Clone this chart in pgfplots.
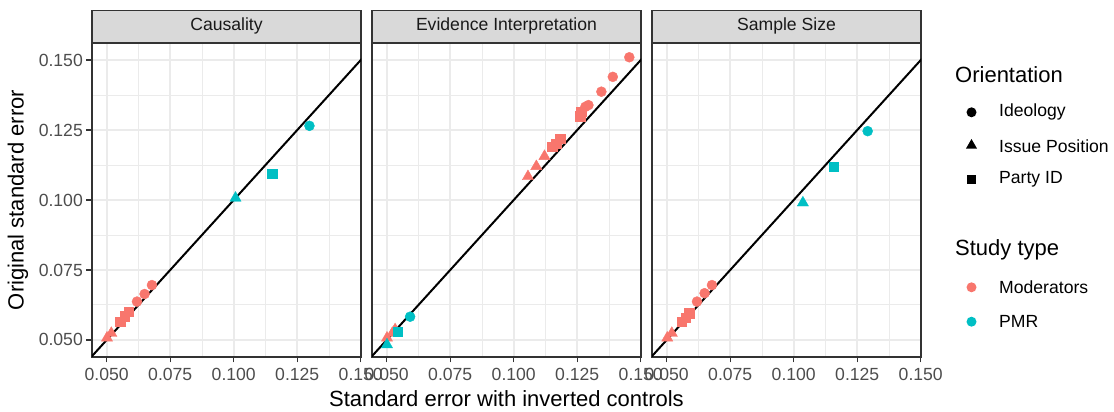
\documentclass[border=0pt]{standalone}
\usepackage{fontspec}
\setmainfont{Liberation Sans}
\usepackage{pgfplots}
\pgfplotsset{compat=1.18}
\usepgfplotslibrary{groupplots}
\usetikzlibrary{shapes.geometric}

\definecolor{modc}{HTML}{F8766D}
\definecolor{pmrc}{HTML}{00BFC4}
\definecolor{gridc}{HTML}{EBEBEB}
\definecolor{bordc}{HTML}{333333}
\definecolor{tickc}{HTML}{4D4D4D}
\definecolor{stripc}{HTML}{D9D9D9}

\pgfplotsset{
  modC/.style={only marks, mark=*, mark size=5pt, color=modc},
  modS/.style={only marks, mark=square*, mark size=4.7pt, color=modc},
  modT/.style={only marks, mark=triangle*, mark size=6.5pt, color=modc},
  pmrC/.style={only marks, mark=*, mark size=5pt, color=pmrc},
  pmrS/.style={only marks, mark=square*, mark size=4.7pt, color=pmrc},
  pmrT/.style={only marks, mark=triangle*, mark size=6.5pt, color=pmrc},
  idline/.style={black, line width=2pt, no marks},
}

\newcommand{\tickfont}{\fontsize{17.6}{20}\selectfont}

\begin{document}
\begin{tikzpicture}
\begin{groupplot}[
  group style={group size=3 by 1, horizontal sep=11pt, group name=G},
  width=269pt, height=314pt, scale only axis,
  xmin=0.0442, xmax=0.1501, ymin=0.0439, ymax=0.1561,
  xtick={0.05,0.075,0.1,0.125,0.15},
  xticklabels={0.050,0.075,0.100,0.125,0.150},
  ytick={0.05,0.075,0.1,0.125,0.15},
  minor xtick={0.0625,0.0875,0.1125,0.1375},
  minor ytick={0.0625,0.0875,0.1125,0.1375},
  grid=both,
  major grid style={gridc, line width=1.9pt},
  minor grid style={gridc, line width=0.9pt},
  axis line style={bordc, line width=1.2pt},
  tick style={bordc, line width=1.2pt},
  tick align=outside, major tick length=5.5pt, minor tick length=0pt,
  xtick pos=bottom, ytick pos=left,
  ticklabel style={font=\tickfont, text=tickc, inner sep=0pt},
  xticklabel style={anchor=base, yshift=-18pt},
  yticklabel style={anchor=east, xshift=-3.5pt},
  title style={at={(0.5,1)}, anchor=south, yshift=-6pt,
    minimum width=269pt, minimum height=32pt, inner sep=0pt,
    fill=stripc, draw=bordc, line width=1.2pt,
    font=\tickfont, text=black!90},
]
% ---- Causality
\nextgroupplot[title={Causality},
  yticklabels={0.050,0.075,0.100,0.125,0.150}]
\addplot[modC] coordinates {(0.0678,0.0696) (0.0649,0.0664) (0.0619,0.0637)};
\addplot[modS] coordinates {(0.0586,0.0601) (0.0570,0.0585) (0.0553,0.0565)};
\addplot[modT] coordinates {(0.0518,0.0524) (0.0501,0.0507)};
\addplot[pmrC] coordinates {(0.1298,0.1265)};
\addplot[pmrS] coordinates {(0.1151,0.1095)};
\addplot[pmrT] coordinates {(0.1007,0.1007)};
\addplot[idline] coordinates {(0.04,0.04) (0.16,0.16)};
% ---- Evidence Interpretation
\nextgroupplot[title={Evidence Interpretation}, yticklabels={},
  y tick style={draw=none}]
\addplot[modC] coordinates {(0.1455,0.1510) (0.1390,0.1440) (0.1345,0.1387)
  (0.1294,0.1339) (0.1282,0.1333)};
\addplot[modS] coordinates {(0.1265,0.1315) (0.1261,0.1300) (0.1183,0.1220)
  (0.1167,0.1202) (0.1151,0.1190)};
\addplot[modT] coordinates {(0.1121,0.1156) (0.1089,0.1120) (0.1056,0.1084)
  (0.0533,0.0537) (0.0522,0.0524) (0.0501,0.0507)};
\addplot[pmrC] coordinates {(0.0592,0.0583)};
\addplot[pmrS] coordinates {(0.0544,0.0529)};
\addplot[pmrT] coordinates {(0.0501,0.0483)};
\addplot[idline] coordinates {(0.04,0.04) (0.16,0.16)};
% ---- Sample Size
\nextgroupplot[title={Sample Size}, yticklabels={},
  y tick style={draw=none}]
\addplot[modC] coordinates {(0.0678,0.0696) (0.0649,0.0667) (0.0619,0.0637)};
\addplot[modS] coordinates {(0.0589,0.0595) (0.0575,0.0580) (0.0560,0.0565)};
\addplot[modT] coordinates {(0.0520,0.0524) (0.0502,0.0507)};
\addplot[pmrC] coordinates {(0.1291,0.1246)};
\addplot[pmrS] coordinates {(0.1157,0.1119)};
\addplot[pmrT] coordinates {(0.1036,0.0990)};
\addplot[idline] coordinates {(0.04,0.04) (0.16,0.16)};
\end{groupplot}

% image top-left corner
\coordinate (O) at ([shift={(-92pt,357pt)}]G c1r1.south west);

% axis titles
\node[rotate=90, font=\fontsize{22}{26}\selectfont]
  at ([shift={(18pt,-200pt)}]O) {Original standard error};
\node[font=\fontsize{22}{26}\selectfont]
  at ([shift={(506.5pt,-399pt)}]O) {Standard error with inverted controls};

% legend
\begin{scope}[every node/.style={font=\tickfont, anchor=west, inner sep=0pt}]
\node[font=\fontsize{22}{26}\selectfont] at ([shift={(955pt,-75pt)}]O) {Orientation};
\node[circle, fill=black, anchor=center, minimum size=10pt] at ([shift={(971.5pt,-112.3pt)}]O) {};
\node at ([shift={(999pt,-112.3pt)}]O) {Ideology};
\node[regular polygon, regular polygon sides=3, fill=black, anchor=center, minimum size=13pt]
  at ([shift={(971.5pt,-145.5pt)}]O) {};
\node at ([shift={(999pt,-146.7pt)}]O) {Issue Position};
\node[rectangle, fill=black, anchor=center, minimum size=9.5pt] at ([shift={(971.5pt,-179.3pt)}]O) {};
\node at ([shift={(999pt,-179.3pt)}]O) {Party ID};
\node[font=\fontsize{22}{26}\selectfont] at ([shift={(955pt,-250pt)}]O) {Study type};
\node[circle, fill=modc, anchor=center, minimum size=10pt] at ([shift={(971.5pt,-287.3pt)}]O) {};
\node at ([shift={(999pt,-287.3pt)}]O) {Moderators};
\node[circle, fill=pmrc, anchor=center, minimum size=10pt] at ([shift={(971.5pt,-321.7pt)}]O) {};
\node at ([shift={(999pt,-321.7pt)}]O) {PMR};
\end{scope}

\pgfresetboundingbox
\path[use as bounding box] (O) rectangle ([shift={(1114pt,-412pt)}]O);
\end{tikzpicture}
\end{document}
